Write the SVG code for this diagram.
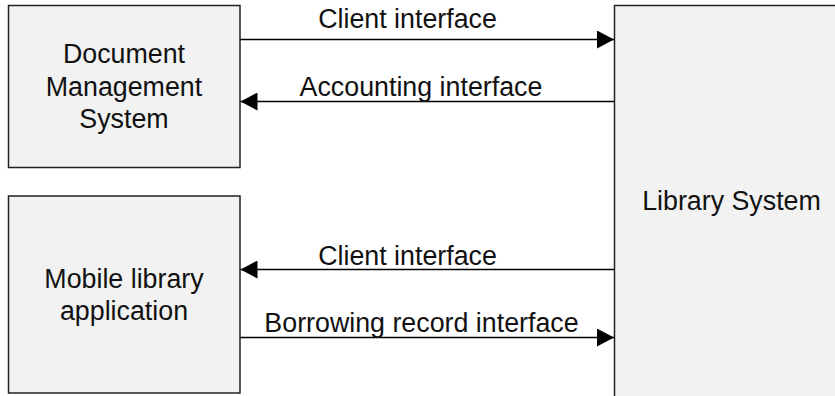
<svg xmlns="http://www.w3.org/2000/svg" width="835" height="396" viewBox="0 0 835 396">
<defs>
<style>
.box{fill:#f2f2f2;stroke:#222;stroke-width:1.5}
.t{font-family:"Liberation Sans",Arial,sans-serif;font-size:26.8px;fill:#111;text-anchor:middle}
.c{stroke:#000;stroke-width:1.5;fill:none}
</style>
<marker id="ah" viewBox="0 0 17 18" refX="17" refY="9" markerWidth="17" markerHeight="18" markerUnits="userSpaceOnUse" orient="auto">
<path d="M0,0 L17,9 L0,18 Z" fill="#000"/>
</marker>
</defs>
<g id="dms">
<rect class="box" x="8.5" y="5.5" width="231.5" height="162"/>
<text class="t" x="124" y="63">Document</text>
<text class="t" x="124" y="96">Management</text>
<text class="t" x="124" y="128">System</text>
</g>
<g id="mobile">
<rect class="box" x="8.5" y="196" width="231.5" height="197"/>
<text class="t" x="124" y="288">Mobile library</text>
<text class="t" x="124" y="320">application</text>
</g>
<g id="library">
<rect class="box" x="614.5" y="5.5" width="240" height="410"/>
<text class="t" x="731.5" y="210">Library System</text>
</g>
<g id="connectors">
<line class="c" x1="240" y1="39.5" x2="614" y2="39.5" marker-end="url(#ah)"/>
<line class="c" x1="614" y1="101.5" x2="240.5" y2="101.5" marker-end="url(#ah)"/>
<line class="c" x1="614" y1="269.5" x2="240.5" y2="269.5" marker-end="url(#ah)"/>
<line class="c" x1="240" y1="337.5" x2="614" y2="337.5" marker-end="url(#ah)"/>
<text class="t" x="407.5" y="28">Client interface</text>
<text class="t" x="421" y="96">Accounting interface</text>
<text class="t" x="407.5" y="265">Client interface</text>
<text class="t" x="421.5" y="332">Borrowing record interface</text>
</g>
</svg>
